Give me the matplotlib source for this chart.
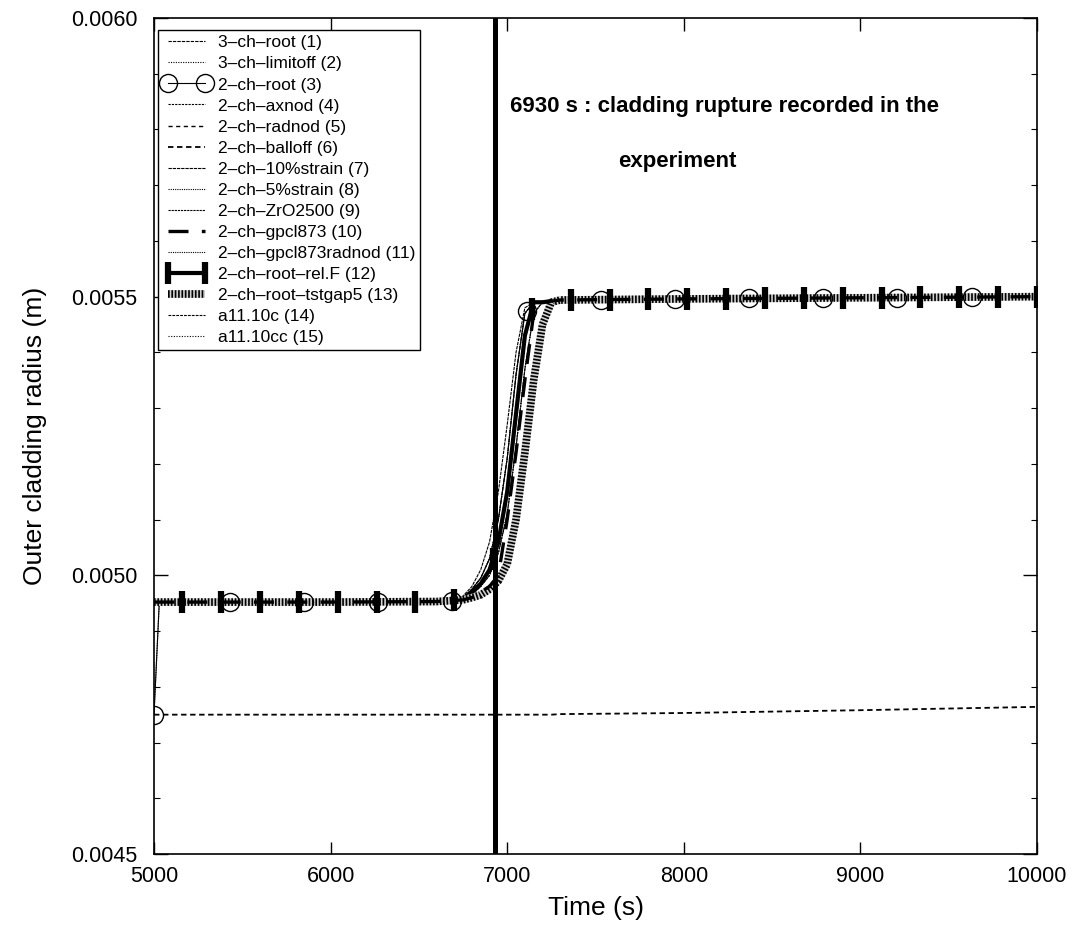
import numpy as np
import matplotlib
matplotlib.use("Agg")
import matplotlib.pyplot as plt
from matplotlib.ticker import MultipleLocator, FormatStrFormatter

plt.rcParams["font.family"] = ["Liberation Sans", "DejaVu Sans"]

# Time grid shared by all simulated cases (s)
time_s = [5000, 5030, 6000, 6600, 6700, 6750, 6800, 6850, 6900, 6950, 7000,
          7050, 7100, 7150, 7200, 7250, 7300, 8000, 9000, 10000]

# Outer cladding radius for each case (m)
r_3ch_root = [0.004952, 0.004952, 0.004952, 0.004953, 0.004955, 0.00496, 0.004975, 0.004995, 0.00503,
              0.00510, 0.00521, 0.00536, 0.00547, 0.00549, 0.00549, 0.005492, 0.005494, 0.005496, 0.005498, 0.0055]
r_3ch_limitoff = [0.00475, 0.004952, 0.004952, 0.004953, 0.004955, 0.004958, 0.00497, 0.004985, 0.00501,
                  0.00506, 0.00515, 0.00529, 0.00543, 0.00549, 0.00549, 0.005492, 0.005494, 0.005496, 0.005498, 0.0055]
r_2ch_root = [0.00475, 0.004952, 0.004952, 0.004953, 0.004955, 0.00496, 0.004975, 0.004995, 0.00503,
              0.00510, 0.00521, 0.00536, 0.00547, 0.00549, 0.00549, 0.005492, 0.005494, 0.005496, 0.005498, 0.0055]
r_2ch_axnod = [0.004952, 0.004952, 0.004952, 0.004953, 0.004955, 0.004957, 0.004965, 0.00498, 0.005,
               0.00504, 0.00511, 0.00523, 0.00537, 0.00547, 0.00549, 0.005492, 0.005494, 0.005496, 0.005498, 0.0055]
r_2ch_radnod = [0.004952, 0.004952, 0.004952, 0.004953, 0.004955, 0.004958, 0.00497, 0.004985, 0.00501,
                0.00506, 0.00515, 0.00529, 0.00543, 0.00549, 0.00549, 0.005492, 0.005494, 0.005496, 0.005498, 0.0055]
r_2ch_balloff = [0.00475, 0.00475, 0.00475, 0.00475, 0.00475, 0.00475, 0.00475, 0.00475, 0.00475,
                 0.00475, 0.00475, 0.00475, 0.00475, 0.00475, 0.00475, 0.00475, 0.004751, 0.004753, 0.004758, 0.004764]
r_2ch_10strain = [0.004952, 0.004952, 0.004952, 0.004953, 0.004955, 0.004963, 0.00498, 0.00501, 0.00506,
                  0.00515, 0.00527, 0.00540, 0.00548, 0.00549, 0.00549, 0.005492, 0.005494, 0.005496, 0.005498, 0.0055]
r_2ch_5strain = [0.004952, 0.004952, 0.004952, 0.004953, 0.004955, 0.00496, 0.004975, 0.004995, 0.00503,
                 0.00510, 0.00521, 0.00536, 0.00547, 0.00549, 0.00549, 0.005492, 0.005494, 0.005496, 0.005498, 0.0055]
r_2ch_zro2500 = [0.004952, 0.004952, 0.004952, 0.004953, 0.004955, 0.004958, 0.00497, 0.004985, 0.00501,
                 0.00506, 0.00515, 0.00529, 0.00543, 0.00549, 0.00549, 0.005492, 0.005494, 0.005496, 0.005498, 0.0055]
r_2ch_gpcl873 = [0.004952, 0.004952, 0.004952, 0.004953, 0.004955, 0.004956, 0.00496, 0.00497, 0.00498,
                 0.005, 0.0051, 0.00522, 0.00535, 0.00547, 0.00549, 0.005492, 0.005494, 0.005496, 0.005498, 0.0055]
r_2ch_gpcl873radnod = [0.004952, 0.004952, 0.004952, 0.004953, 0.004955, 0.004957, 0.004965, 0.00498, 0.005,
                       0.00504, 0.00511, 0.00523, 0.00537, 0.00547, 0.00549, 0.005492, 0.005494, 0.005496, 0.005498, 0.0055]
r_2ch_relF = [0.004952, 0.004952, 0.004952, 0.004953, 0.004955, 0.004958, 0.00497, 0.004985, 0.00501,
              0.00506, 0.00515, 0.00529, 0.00543, 0.00549, 0.00549, 0.005492, 0.005494, 0.005496, 0.005498, 0.0055]
r_2ch_tstgap5 = [0.004952, 0.004952, 0.004952, 0.004953, 0.004955, 0.004956, 0.00496, 0.004965, 0.004975,
                 0.00499, 0.00502, 0.0051, 0.00522, 0.00535, 0.00545, 0.00549, 0.005494, 0.005496, 0.005498, 0.0055]
r_a1110c = [0.004952, 0.004952, 0.004952, 0.004953, 0.004955, 0.004958, 0.00497, 0.004985, 0.00501,
            0.00506, 0.00515, 0.00529, 0.00543, 0.00549, 0.00549, 0.005492, 0.005494, 0.005496, 0.005498, 0.0055]
r_a1110cc = [0.004952, 0.004952, 0.004952, 0.004953, 0.004955, 0.004957, 0.004965, 0.00498, 0.005,
             0.00504, 0.00511, 0.00523, 0.00537, 0.00547, 0.00549, 0.005492, 0.005494, 0.005496, 0.005498, 0.0055]

labels = ["3–ch–root (1)", "3–ch–limitoff (2)", "2–ch–root (3)", "2–ch–axnod (4)",
          "2–ch–radnod (5)", "2–ch–balloff (6)", "2–ch–10%strain (7)", "2–ch–5%strain (8)",
          "2–ch–ZrO2500 (9)", "2–ch–gpcl873 (10)", "2–ch–gpcl873radnod (11)",
          "2–ch–root–rel.F (12)", "2–ch–root–tstgap5 (13)", "a11.10c (14)", "a11.10cc (15)"]

# Symbol stations along the marked curves (s)
root_marker_times = [5000, 5430, 5850, 6270, 6690, 7110, 7530, 7950, 8370, 8790, 9210, 9630]
relF_marker_times = list(range(5160, 10001, 220))

rupture_time = 6930

fig = plt.figure(figsize=(10.78, 9.25), dpi=100)
ax = fig.add_axes([154 / 1078, 71 / 925, 883 / 1078, 836 / 925])

thin = 0.8

h1, = ax.plot(time_s, r_3ch_root, color="black", lw=thin, ls=(0, (3, 1)))
h2, = ax.plot(time_s, r_3ch_limitoff, color="black", lw=thin, ls=(0, (1, 1.2)))
h3l, = ax.plot(time_s, r_2ch_root, color="black", lw=thin, ls="-")
h4, = ax.plot(time_s, r_2ch_axnod, color="black", lw=thin, ls=(0, (2, 1)))
h5, = ax.plot(time_s, r_2ch_radnod, color="black", lw=1.0, ls=(0, (3, 2.5)))
h6, = ax.plot(time_s, r_2ch_balloff, color="black", lw=1.3, ls=(0, (3, 2)))
h7, = ax.plot(time_s, r_2ch_10strain, color="black", lw=thin, ls=(0, (3, 0.8)))
h8, = ax.plot(time_s, r_2ch_5strain, color="black", lw=thin, ls=(0, (1, 1)))
h9, = ax.plot(time_s, r_2ch_zro2500, color="black", lw=thin, ls=(0, (2, 0.8)))
h11, = ax.plot(time_s, r_2ch_gpcl873radnod, color="black", lw=thin, ls=(0, (1, 1)))
h12l, = ax.plot(time_s, r_2ch_relF, color="black", lw=3.0, solid_capstyle="butt")
h14, = ax.plot(time_s, r_a1110c, color="black", lw=thin, ls=(0, (2.5, 1)))
h15, = ax.plot(time_s, r_a1110cc, color="black", lw=thin, ls=(0, (1, 1.4)))

# Hatched thick band: light core with fine black stripes
h13a, = ax.plot(time_s, r_2ch_tstgap5, color="#d0d0d0", lw=5.5, solid_capstyle="butt")
h13b, = ax.plot(time_s, r_2ch_tstgap5, color="black", lw=5.5, ls=(0, (0.22, 0.22)),
                dash_capstyle="butt")
h10, = ax.plot(time_s, r_2ch_gpcl873, color="black", lw=2.4, ls=(0, (6, 4)))

# Symbols
h3m, = ax.plot(root_marker_times, np.interp(root_marker_times, time_s, r_2ch_root),
               ls="none", marker="o", ms=13, mfc="none", mec="black", mew=1.0)
h12m, = ax.plot(relF_marker_times, np.interp(relF_marker_times, time_s, r_2ch_relF),
                ls="none", marker="|", ms=16, mec="black", mew=4.5)

# Recorded rupture time
ax.axvline(rupture_time, color="black", lw=3.6)
ax.text(7015, 0.005842, f"{rupture_time} s : cladding rupture recorded in the",
        fontsize=16, fontweight="bold", ha="left", va="center")
ax.text(7630, 0.005742, "experiment", fontsize=16, fontweight="bold", ha="left", va="center")

ax.set_xlim(5000, 10000)
ax.set_ylim(0.0045, 0.0060)
ax.xaxis.set_major_locator(MultipleLocator(1000))
ax.yaxis.set_major_locator(MultipleLocator(0.0005))
ax.yaxis.set_minor_locator(MultipleLocator(0.0001))
ax.yaxis.set_major_formatter(FormatStrFormatter("%.4f"))
ax.tick_params(axis="both", which="major", direction="in", top=True, right=True,
               labelsize=15.5, width=1.0, color="black")
ax.tick_params(axis="x", which="major", length=9, pad=9)
ax.tick_params(axis="y", which="major", length=10, pad=12)
ax.tick_params(axis="y", which="minor", direction="in", length=4.5, width=0.8, right=True, left=True)
for sp in ax.spines.values():
    sp.set_linewidth(1.2)

ax.set_xlabel("Time (s)", fontsize=19, labelpad=6)
ax.set_ylabel("Outer cladding radius (m)", fontsize=19, labelpad=17)

handles = [h1, h2, (h3l, h3m), h4, h5, h6, h7, h8, h9, h10, h11, (h12l, h12m),
           (h13a, h13b), h14, h15]
leg = ax.legend(handles, labels, loc="upper left", bbox_to_anchor=(0.0045, 0.9856),
                borderaxespad=0, fontsize=12.5, numpoints=2, handlelength=2.7,
                handletextpad=0.45, labelspacing=0.34, borderpad=0.3, fancybox=False,
                framealpha=1, edgecolor="black")
leg.get_frame().set_linewidth(1.0)

fig.savefig("out.png", dpi=100)
